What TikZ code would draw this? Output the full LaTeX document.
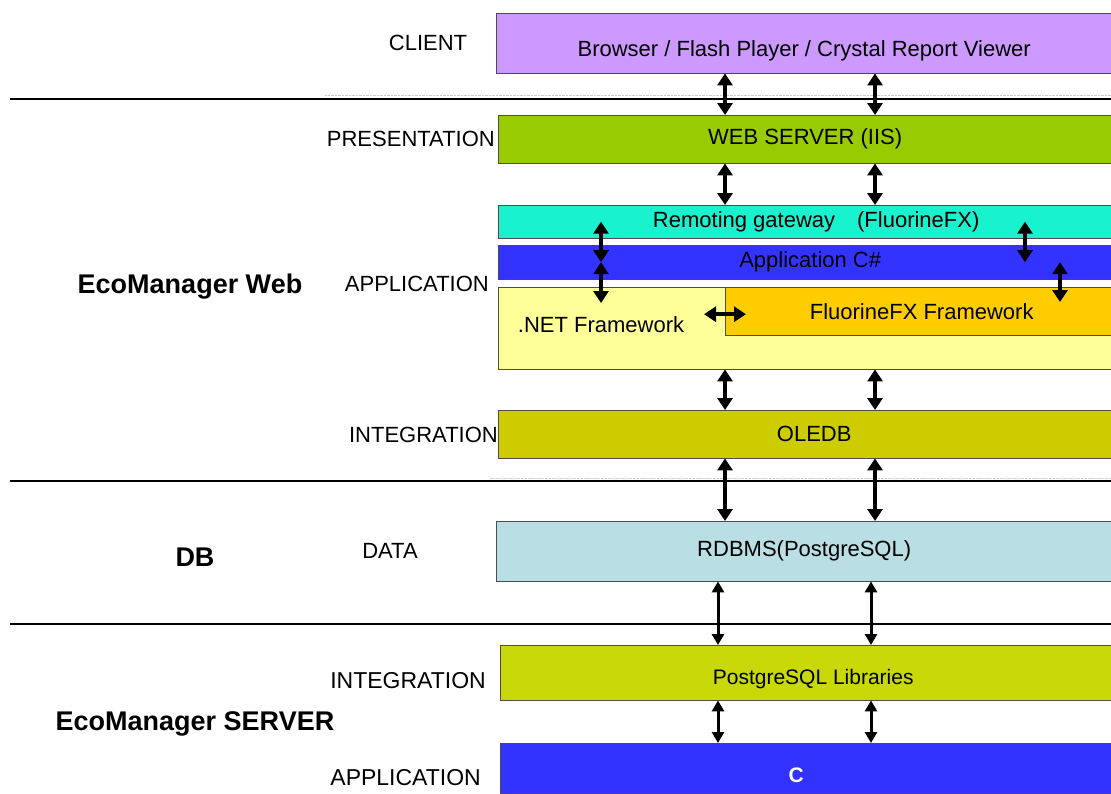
\documentclass[tikz,border=0pt]{standalone}
\usepackage{fontspec}
\setmainfont{Liberation Sans}
\usetikzlibrary{arrows.meta}
\definecolor{colorClient}{HTML}{CC99FF}
\definecolor{colorWeb}{HTML}{99CC00}
\definecolor{colorRemote}{HTML}{19F2CF}
\definecolor{colorApp}{HTML}{3333FF}
\definecolor{colorNet}{HTML}{FFFF99}
\definecolor{colorFluo}{HTML}{FFCC00}
\definecolor{colorOle}{HTML}{CCCC00}
\definecolor{colorData}{HTML}{B9DEE4}
\definecolor{colorLib}{HTML}{C8D808}

\begin{document}
\begin{tikzpicture}[x=1pt,y=-1pt,
        box/.style={draw=black!70, thin, anchor=north west, inner sep=0pt, font=\fontsize{22}{26}\selectfont},
        dbl/.style={line width=4.5pt, {Triangle[length=12pt,width=15pt]}-{Triangle[length=12pt,width=15pt]}},
        thindbl/.style={line width=3pt, {Triangle[length=11pt,width=12pt]}-{Triangle[length=11pt,width=12pt]}},
        lbl/.style={font=\fontsize{22}{26}\selectfont},
        tier/.style={font=\bfseries\fontsize{27}{32}\selectfont}]
        \useasboundingbox (0,0) rectangle (1111,793);

        % separators
        \draw[gray!40, densely dotted] (325,95) -- (1111,95);
        \draw[gray!40, densely dotted] (490,478) -- (1111,478);
        \draw[line width=1.5pt] (10,99) -- (1111,99);
        \draw[line width=1.5pt] (10,481) -- (1111,481);
        \draw[line width=1.5pt] (10,624) -- (1111,624);

        % tiers
        \node[tier] (web-tier) at (190,287) {EcoManager Web};
        \node[tier] (db-tier) at (195,557) {DB};
        \node[tier] (server-tier) at (195,724) {EcoManager SERVER};

        % layer names
        \node[lbl] (l-client) at (428,43) {CLIENT};
        \node[lbl, anchor=east, inner sep=0pt] (l-pres) at (495,139) {PRESENTATION};
        \node[lbl, anchor=east, inner sep=0pt] (l-app) at (489,284) {APPLICATION};
        \node[lbl, anchor=east, inner sep=0pt] (l-int) at (498,435) {INTEGRATION};
        \node[lbl] (l-data) at (390,551) {DATA};
        \node[lbl, anchor=east, inner sep=0pt, font=\fontsize{23}{27}\selectfont] (l-int2) at (486,681) {INTEGRATION};
        \node[lbl, anchor=east, inner sep=0pt, font=\fontsize{23}{27}\selectfont] (l-app2) at (481,778) {APPLICATION};

        % boxes
        \node[box, fill=colorClient, minimum width=616pt, minimum height=60pt] (client) at (496,13) {\raisebox{-8pt}[\height][\depth]{Browser / Flash Player / Crystal Report Viewer}};
        \node[box, fill=colorWeb, minimum width=614pt, minimum height=48pt] (web) at (498,115) {WEB SERVER (IIS)};
        \node[box, fill=colorRemote, minimum width=614pt, minimum height=33pt] (remote) at (498,205) {\hspace*{22pt}Remoting gateway\quad (FluorineFX)};
        \node[box, fill=colorApp, minimum width=614pt, minimum height=34pt] (app) at (498,245) {\hspace*{10pt}Application C\#};
        \node[box, fill=colorNet, minimum width=614pt, minimum height=82pt] (net) at (498,287) {};
        \node[lbl] (net-text) at (601,325) {.NET Framework};
        \node[box, fill=colorFluo, minimum width=387pt, minimum height=48pt] (fluo) at (725,287) {\hspace*{6pt}FluorineFX Framework};
        \node[box, fill=colorOle, minimum width=614pt, minimum height=48pt] (ole) at (498,410) {\hspace*{18pt}OLEDB};
        \node[box, fill=colorData, minimum width=616pt, minimum height=60pt] (data) at (496,521) {RDBMS(PostgreSQL)};
        \node[box, fill=colorLib, minimum width=612pt, minimum height=55pt, font=\fontsize{21}{25}\selectfont] (lib) at (500,645) {\hspace*{14pt}\raisebox{-6pt}[\height][\depth]{PostgreSQL Libraries}};
        \node[box, fill=colorApp, minimum width=612pt, minimum height=50pt, text=white, font=\bfseries\fontsize{21}{25}\selectfont] (cbox) at (500,743) {\raisebox{-7pt}[\height][\depth]{C}\hspace*{20pt}};

        % arrow columns
        \coordinate (a1) at (725,0);
        \coordinate (a2) at (875,0);
        \coordinate (b1) at (718,0);
        \coordinate (b2) at (871,0);
        \coordinate (c1) at (601,0);
        \coordinate (c2) at (1025,0);
        \coordinate (c3) at (1060,0);

        \draw[dbl] (client.south -| a1) -- (web.north -| a1);
        \draw[dbl] (client.south -| a2) -- (web.north -| a2);
        \draw[dbl] (web.south -| a1) -- (remote.north -| a1);
        \draw[dbl] (web.south -| a2) -- (remote.north -| a2);
        \draw[dbl] (remote.center -| c1) -- (app.center -| c1);
        \draw[dbl] (app.center -| c1) -- ([yshift=-16pt]net.north -| c1);
        \draw[dbl] (remote.center -| c2) -- (app.center -| c2);
        \draw[dbl] (app.center -| c3) -- ([yshift=-15pt]fluo.north -| c3);
        \draw[dbl] ([xshift=-21pt,yshift=-3pt]fluo.west) -- ([xshift=21pt,yshift=-3pt]fluo.west);
        \draw[dbl] (net.south -| a1) -- (ole.north -| a1);
        \draw[dbl] (net.south -| a2) -- (ole.north -| a2);
        \draw[dbl] (ole.south -| a1) -- (data.north -| a1);
        \draw[dbl] (ole.south -| a2) -- (data.north -| a2);
        \draw[thindbl] (data.south -| b1) -- (lib.north -| b1);
        \draw[thindbl] (data.south -| b2) -- (lib.north -| b2);
        \draw[thindbl] (lib.south -| b1) -- (cbox.north -| b1);
        \draw[thindbl] (lib.south -| b2) -- (cbox.north -| b2);
    \end{tikzpicture}
\end{document}
